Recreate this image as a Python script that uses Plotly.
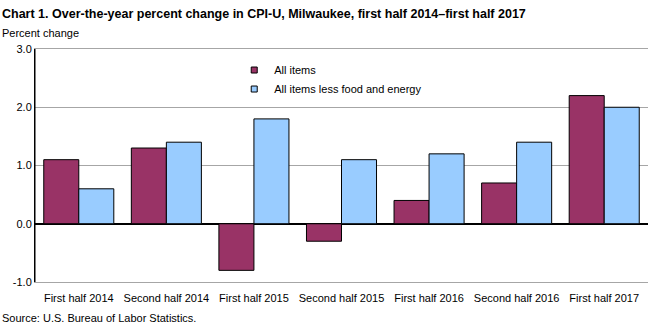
import plotly.graph_objects as go

categories = ["First half 2014", "Second half 2014", "First half 2015", "Second half 2015",
              "First half 2016", "Second half 2016", "First half 2017"]
all_items = [1.1, 1.3, -0.8, -0.3, 0.4, 0.7, 2.2]
core = [0.6, 1.4, 1.8, 1.1, 1.2, 1.4, 2.0]
y_ticks = [-1.0, 0.0, 1.0, 2.0, 3.0]
y_tick_labels = ["-1.0", "0.0", "1.0", "2.0", "3.0"]
series_names = ["All items", "All items less food and energy"]
series_colors = ["#993366", "#99CCFF"]

font = "Liberation Sans, Arial, sans-serif"

fig = go.Figure()
for vals, name, col in zip([all_items, core], series_names, series_colors):
    fig.add_trace(go.Bar(x=categories, y=vals, name=name, showlegend=False,
                         marker=dict(color=col, line=dict(color="black", width=1))))
# compact legend entries with small square markers
for name, col in zip(series_names, series_colors):
    fig.add_trace(go.Scatter(x=[None], y=[None], mode="markers", name=name,
                             marker=dict(symbol="square", size=6, color=col,
                                         line=dict(color="black", width=1))))

fig.update_layout(
    width=659, height=326,
    margin=dict(l=35, r=11, t=49, b=44),
    paper_bgcolor="white", plot_bgcolor="white",
    barmode="group", bargap=0.2, bargroupgap=0,
    font=dict(family=font, size=11, color="black"),
    showlegend=True,
    legend=dict(x=0.325, y=0.972, xanchor="left", yanchor="top",
                bgcolor="rgba(0,0,0,0)", font=dict(size=11, family=font),
                itemwidth=30, tracegroupgap=0),
    xaxis=dict(showline=True, linecolor="#A6A6A6", mirror=True, ticks="",
               tickfont=dict(size=11), showgrid=False, ticklabelstandoff=6),
    yaxis=dict(range=[-1, 3], tickvals=y_ticks, ticktext=y_tick_labels,
               showgrid=True, gridcolor="#A6A6A6", gridwidth=1,
               zeroline=True, zerolinecolor="black", zerolinewidth=1.5,
               showline=True, linecolor="black", ticks="", tickfont=dict(size=11)),
)

fig.add_annotation(text="<b>Chart 1. Over-the-year percent change in CPI-U, Milwaukee, first half 2014–first half 2017</b>",
                   xref="paper", yref="paper", x=-35/613, y=1, yshift=35,
                   xanchor="left", yanchor="middle", showarrow=False,
                   font=dict(size=12.5, family=font))
fig.add_annotation(text="Percent change", xref="paper", yref="paper", x=-35/613, y=1, yshift=16,
                   xanchor="left", yanchor="middle", showarrow=False, font=dict(size=11))
fig.add_annotation(text="Source: U.S. Bureau of Labor Statistics.", xref="paper", yref="paper",
                   x=-35/613, y=0, yshift=-36, xanchor="left", yanchor="middle",
                   showarrow=False, font=dict(size=11))

fig.add_shape(type="line", xref="paper", yref="paper", x0=0, x1=0, y0=0, y1=1,
              line=dict(color="black", width=1))

fig.write_html("out.html")
